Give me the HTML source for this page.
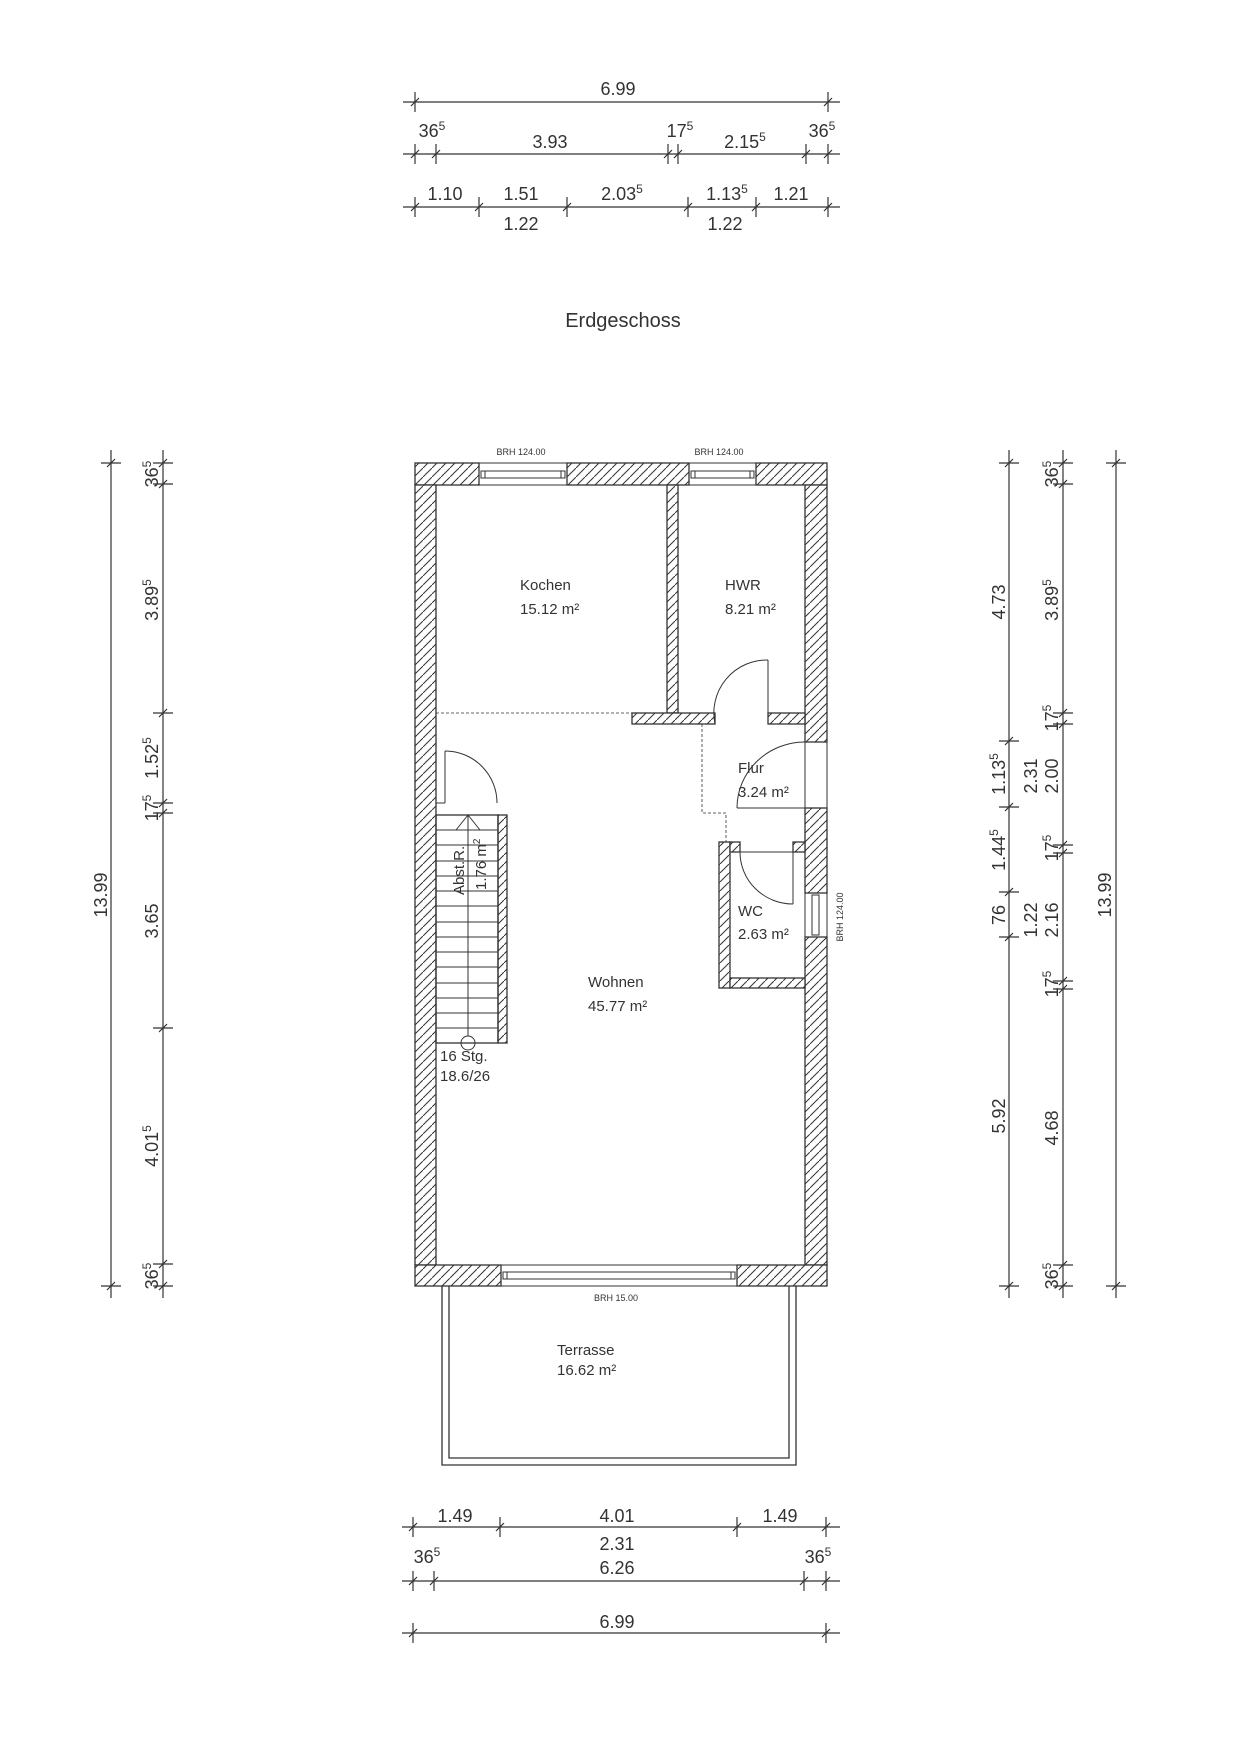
<!DOCTYPE html>
<html><head><meta charset="utf-8"><style>
html,body{margin:0;padding:0;background:#fff;}
svg{display:block;}
text{font-family:"Liberation Sans",sans-serif;fill:#333;}
.d{font-size:18px;}
.r{font-size:15px;}
.s{font-size:9px;}
</style></head><body>
<svg width="1240" height="1755" viewBox="0 0 1240 1755" xmlns="http://www.w3.org/2000/svg">
<defs>
<pattern id="h" patternUnits="userSpaceOnUse" width="9" height="9">
<rect width="9" height="9" fill="#fff"/>
<line x1="-1" y1="10" x2="10" y2="-1" stroke="#333" stroke-width="1"/>
</pattern>
<g id="th"><line x1="0" y1="-10" x2="0" y2="10" stroke="#333" stroke-width="1.2"/><line x1="-4" y1="4" x2="4" y2="-4" stroke="#333" stroke-width="1.2"/></g>
<g id="tv"><line x1="-10" y1="0" x2="10" y2="0" stroke="#333" stroke-width="1.2"/><line x1="-4" y1="4" x2="4" y2="-4" stroke="#333" stroke-width="1.2"/></g>
</defs>

<!-- top dimensions -->
<g stroke="#333" stroke-width="1.2">
<line x1="403" y1="102" x2="840" y2="102"/>
<line x1="403" y1="154" x2="840" y2="154"/>
<line x1="403" y1="207" x2="840" y2="207"/>
</g>
<use href="#th" x="415" y="102"/><use href="#th" x="828" y="102"/>
<use href="#th" x="415" y="154"/><use href="#th" x="436" y="154"/><use href="#th" x="668" y="154"/><use href="#th" x="678" y="154"/><use href="#th" x="806" y="154"/><use href="#th" x="828" y="154"/>
<use href="#th" x="415" y="207"/><use href="#th" x="479" y="207"/><use href="#th" x="567" y="207"/><use href="#th" x="688" y="207"/><use href="#th" x="756" y="207"/><use href="#th" x="828" y="207"/>
<g class="d" text-anchor="middle">
<text x="618" y="95">6.99</text>
<text x="432" y="137">36<tspan dy="-7" font-size="12">5</tspan></text>
<text x="550" y="148">3.93</text>
<text x="680" y="137">17<tspan dy="-7" font-size="12">5</tspan></text>
<text x="745" y="148">2.15<tspan dy="-7" font-size="12">5</tspan></text>
<text x="822" y="137">36<tspan dy="-7" font-size="12">5</tspan></text>
<text x="445" y="200">1.10</text>
<text x="521" y="200">1.51</text>
<text x="622" y="200">2.03<tspan dy="-7" font-size="12">5</tspan></text>
<text x="727" y="200">1.13<tspan dy="-7" font-size="12">5</tspan></text>
<text x="791" y="200">1.21</text>
<text x="521" y="230">1.22</text>
<text x="725" y="230">1.22</text>
</g>

<text x="623" y="327" text-anchor="middle" font-size="20">Erdgeschoss</text>

<!-- left dimensions -->
<g stroke="#333" stroke-width="1.2">
<line x1="111" y1="450" x2="111" y2="1298"/>
<line x1="163" y1="450" x2="163" y2="1298"/>
</g>
<use href="#tv" x="111" y="463"/><use href="#tv" x="111" y="1286"/>
<use href="#tv" x="163" y="463"/><use href="#tv" x="163" y="484"/><use href="#tv" x="163" y="713"/><use href="#tv" x="163" y="803"/><use href="#tv" x="163" y="813"/><use href="#tv" x="163" y="1028"/><use href="#tv" x="163" y="1264"/><use href="#tv" x="163" y="1286"/>
<g class="d" text-anchor="middle">
<text transform="translate(107,895) rotate(-90)">13.99</text>
<text transform="translate(158,474) rotate(-90)">36<tspan dy="-7" font-size="12">5</tspan></text>
<text transform="translate(158,600) rotate(-90)">3.89<tspan dy="-7" font-size="12">5</tspan></text>
<text transform="translate(158,758) rotate(-90)">1.52<tspan dy="-7" font-size="12">5</tspan></text>
<text transform="translate(158,808) rotate(-90)">17<tspan dy="-7" font-size="12">5</tspan></text>
<text transform="translate(158,921) rotate(-90)">3.65</text>
<text transform="translate(158,1146) rotate(-90)">4.01<tspan dy="-7" font-size="12">5</tspan></text>
<text transform="translate(158,1276) rotate(-90)">36<tspan dy="-7" font-size="12">5</tspan></text>
</g>

<!-- right dimensions -->
<g stroke="#333" stroke-width="1.2">
<line x1="1009" y1="450" x2="1009" y2="1298"/>
<line x1="1063" y1="450" x2="1063" y2="1298"/>
<line x1="1116" y1="450" x2="1116" y2="1298"/>
</g>
<use href="#tv" x="1009" y="463"/><use href="#tv" x="1009" y="741"/><use href="#tv" x="1009" y="807"/><use href="#tv" x="1009" y="892"/><use href="#tv" x="1009" y="937"/><use href="#tv" x="1009" y="1286"/>
<use href="#tv" x="1063" y="463"/><use href="#tv" x="1063" y="484"/><use href="#tv" x="1063" y="713"/><use href="#tv" x="1063" y="724"/><use href="#tv" x="1063" y="845"/><use href="#tv" x="1063" y="853"/><use href="#tv" x="1063" y="981"/><use href="#tv" x="1063" y="989"/><use href="#tv" x="1063" y="1265"/><use href="#tv" x="1063" y="1286"/>
<use href="#tv" x="1116" y="463"/><use href="#tv" x="1116" y="1286"/>
<g class="d" text-anchor="middle">
<text transform="translate(1005,602) rotate(-90)">4.73</text>
<text transform="translate(1005,774) rotate(-90)">1.13<tspan dy="-7" font-size="12">5</tspan></text>
<text transform="translate(1005,850) rotate(-90)">1.44<tspan dy="-7" font-size="12">5</tspan></text>
<text transform="translate(1005,915) rotate(-90)">76</text>
<text transform="translate(1005,1116) rotate(-90)">5.92</text>
<text transform="translate(1058,474) rotate(-90)">36<tspan dy="-7" font-size="12">5</tspan></text>
<text transform="translate(1058,600) rotate(-90)">3.89<tspan dy="-7" font-size="12">5</tspan></text>
<text transform="translate(1058,718) rotate(-90)">17<tspan dy="-7" font-size="12">5</tspan></text>
<text transform="translate(1037,776) rotate(-90)">2.31</text>
<text transform="translate(1058,776) rotate(-90)">2.00</text>
<text transform="translate(1058,848) rotate(-90)">17<tspan dy="-7" font-size="12">5</tspan></text>
<text transform="translate(1037,920) rotate(-90)">1.22</text>
<text transform="translate(1058,920) rotate(-90)">2.16</text>
<text transform="translate(1058,984) rotate(-90)">17<tspan dy="-7" font-size="12">5</tspan></text>
<text transform="translate(1058,1128) rotate(-90)">4.68</text>
<text transform="translate(1058,1276) rotate(-90)">36<tspan dy="-7" font-size="12">5</tspan></text>
<text transform="translate(1111,895) rotate(-90)">13.99</text>
</g>

<!-- walls -->
<g fill="url(#h)" stroke="#333" stroke-width="1.3">
<rect x="415" y="463" width="64" height="22"/>
<rect x="567" y="463" width="122" height="22"/>
<rect x="756" y="463" width="71" height="22"/>
<rect x="415" y="485" width="21" height="780"/>
<rect x="805" y="485" width="22" height="257"/>
<rect x="805" y="808" width="22" height="85"/>
<rect x="805" y="937" width="22" height="328"/>
<rect x="415" y="1265" width="86" height="21"/>
<rect x="737" y="1265" width="90" height="21"/>
<rect x="667" y="485" width="11" height="228"/>
<rect x="632" y="713" width="83" height="11"/>
<rect x="768" y="713" width="37" height="11"/>
<rect x="719" y="842" width="11" height="146"/>
<rect x="730" y="842" width="10" height="10"/>
<rect x="793" y="842" width="12" height="10"/>
<rect x="730" y="978" width="75" height="10"/>
<rect x="498" y="815" width="9" height="228"/>
</g>

<!-- windows -->
<g fill="none" stroke="#333" stroke-width="1">
<rect x="479" y="463" width="88" height="22"/>
<rect x="481" y="471" width="84" height="7"/>
<line x1="485" y1="471" x2="485" y2="478"/><line x1="561" y1="471" x2="561" y2="478"/>
<rect x="689" y="463" width="67" height="22"/>
<rect x="691" y="471" width="63" height="7"/>
<line x1="695" y1="471" x2="695" y2="478"/><line x1="750" y1="471" x2="750" y2="478"/>
<rect x="501" y="1265" width="236" height="21"/>
<rect x="503" y="1272" width="232" height="7"/>
<line x1="507" y1="1272" x2="507" y2="1279"/><line x1="731" y1="1272" x2="731" y2="1279"/>
<rect x="805" y="893" width="22" height="44"/>
<rect x="812" y="895" width="7" height="40"/>
<line x1="805" y1="742" x2="827" y2="742"/>
<line x1="805" y1="808" x2="827" y2="808"/>
<line x1="805" y1="742" x2="805" y2="808"/>
<line x1="827" y1="742" x2="827" y2="808"/>
<line x1="768" y1="660" x2="768" y2="724"/>
<path d="M715 724 A53 53 0 0 1 768 660"/>
<line x1="737" y1="808" x2="805" y2="808"/>
<path d="M737 808 A68 66 0 0 1 805 742"/>
<line x1="740" y1="852" x2="793" y2="852"/>
<line x1="793" y1="842" x2="793" y2="904"/>
<path d="M740 852 A53 52 0 0 0 793 904"/>
<line x1="445" y1="751" x2="445" y2="803"/>
<path d="M445 751 A52 52 0 0 1 497 803"/>
<line x1="436" y1="803" x2="445" y2="803"/>
<line x1="436" y1="713" x2="632" y2="713" stroke-dasharray="3,2" stroke-width="0.8"/>
<polyline points="702,724 702,813 726,813 726,842" stroke-dasharray="3,2" stroke-width="0.8"/>
<rect x="436" y="815" width="62" height="228" stroke-width="1.3"/>
<line x1="468" y1="815" x2="468" y2="1036"/>
<polyline points="456,830 468,815 480,830"/>
<line x1="456" y1="830" x2="480" y2="830"/>
<circle cx="468" cy="1043" r="7"/>
</g>
<g stroke="#333" stroke-width="0.9">
<line x1="436" y1="830" x2="498" y2="830"/><line x1="436" y1="845" x2="498" y2="845"/><line x1="436" y1="861" x2="498" y2="861"/><line x1="436" y1="876" x2="498" y2="876"/><line x1="436" y1="891" x2="498" y2="891"/><line x1="436" y1="906" x2="498" y2="906"/><line x1="436" y1="922" x2="498" y2="922"/><line x1="436" y1="937" x2="498" y2="937"/><line x1="436" y1="952" x2="498" y2="952"/><line x1="436" y1="967" x2="498" y2="967"/><line x1="436" y1="983" x2="498" y2="983"/><line x1="436" y1="998" x2="498" y2="998"/><line x1="436" y1="1013" x2="498" y2="1013"/><line x1="436" y1="1028" x2="498" y2="1028"/>
</g>

<!-- terrace -->
<g fill="none" stroke="#333" stroke-width="1.3">
<polyline points="442,1286 442,1465 796,1465 796,1286"/>
<polyline points="449,1286 449,1458 789,1458 789,1286"/>
</g>

<!-- labels -->
<g class="s" text-anchor="middle">
<text x="521" y="455">BRH 124.00</text>
<text x="719" y="455">BRH 124.00</text>
<text x="616" y="1301">BRH 15.00</text>
<text transform="translate(843,917) rotate(-90)">BRH 124.00</text>
</g>
<g class="r">
<text x="520" y="590">Kochen</text>
<text x="520" y="614">15.12 m²</text>
<text x="725" y="590">HWR</text>
<text x="725" y="614">8.21 m²</text>
<text x="738" y="773">Flur</text>
<text x="738" y="797">3.24 m²</text>
<text x="738" y="916">WC</text>
<text x="738" y="939">2.63 m²</text>
<text x="588" y="987">Wohnen</text>
<text x="588" y="1011">45.77 m²</text>
<text x="557" y="1355">Terrasse</text>
<text x="557" y="1375">16.62 m²</text>
<text x="440" y="1061">16 Stg.</text>
<text x="440" y="1081">18.6/26</text>
<text transform="translate(464,895) rotate(-90)" text-anchor="start">Abst.R.</text>
<text transform="translate(486,890) rotate(-90)" text-anchor="start">1.76 m<tspan dy="-6" font-size="10">2</tspan></text>
</g>

<!-- bottom dimensions -->
<g stroke="#333" stroke-width="1.2">
<line x1="402" y1="1527" x2="840" y2="1527"/>
<line x1="402" y1="1581" x2="840" y2="1581"/>
<line x1="402" y1="1633" x2="840" y2="1633"/>
</g>
<use href="#th" x="413" y="1527"/><use href="#th" x="500" y="1527"/><use href="#th" x="737" y="1527"/><use href="#th" x="826" y="1527"/>
<use href="#th" x="413" y="1581"/><use href="#th" x="434" y="1581"/><use href="#th" x="804" y="1581"/><use href="#th" x="826" y="1581"/>
<use href="#th" x="413" y="1633"/><use href="#th" x="826" y="1633"/>
<g class="d" text-anchor="middle">
<text x="455" y="1522">1.49</text>
<text x="617" y="1522">4.01</text>
<text x="780" y="1522">1.49</text>
<text x="617" y="1550">2.31</text>
<text x="617" y="1574">6.26</text>
<text x="427" y="1563">36<tspan dy="-7" font-size="12">5</tspan></text>
<text x="818" y="1563">36<tspan dy="-7" font-size="12">5</tspan></text>
<text x="617" y="1628">6.99</text>
</g>
</svg>
</body></html>
